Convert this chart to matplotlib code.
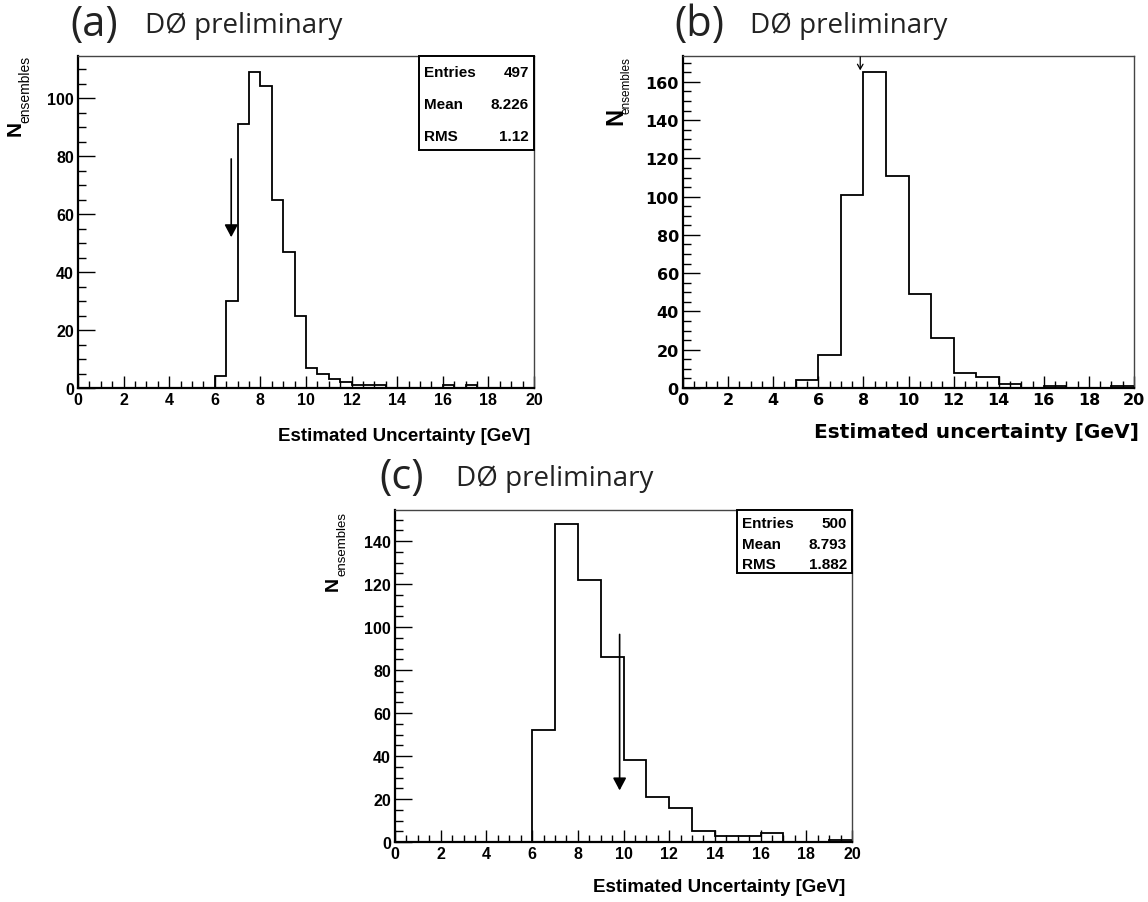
import numpy as np
import matplotlib
matplotlib.use("Agg")
import matplotlib.pyplot as plt
from matplotlib.ticker import MultipleLocator
from matplotlib.patches import Rectangle

# ---- data -------------------------------------------------------------
edges_a = np.arange(0, 20.5, 0.5)
counts_a = [0, 0, 0, 0, 0, 0, 0, 0, 0, 0, 0, 0,
            4, 30, 91, 109, 104, 65, 47, 25,
            7, 5, 3, 2, 1, 1, 1, 0, 0, 0, 0, 0,
            1, 0, 1, 0, 0, 0, 0, 0]
stats_a = [("Entries", "497"), ("Mean", "8.226"), ("RMS", "1.12")]
arrow_a = (6.72, 79, 52)

edges_b = np.arange(0, 21, 1)
counts_b = [0, 0, 0, 0, 0, 4, 17, 101, 165, 111, 49, 26, 8, 6, 2, 0, 1, 0, 0, 1]
arrow_b = (7.86, 173, 166)

edges_c = np.arange(0, 21, 1)
counts_c = [0, 0, 0, 0, 0, 0, 52, 148, 122, 86, 38, 21, 16, 5, 3, 3, 4, 0, 0, 1]
stats_c = [("Entries", "500"), ("Mean", "8.793"), ("RMS", "1.882")]
arrow_c = (9.83, 96.6, 24)

W, H = 1148, 903
fig = plt.figure(figsize=(W / 100, H / 100), dpi=100)


def rect(l, r, t, b):
    return [l / W, 1 - b / H, (r - l) / W, (b - t) / H]


def fx(x):
    return x / W


def fy(y):
    return 1 - y / H


def style_axes(ax, ymax, family, tsize):
    ax.set_xlim(0, 20)
    ax.set_ylim(0, ymax)
    ax.xaxis.set_major_locator(MultipleLocator(2))
    ax.xaxis.set_minor_locator(MultipleLocator(0.5))
    ax.yaxis.set_major_locator(MultipleLocator(20))
    ax.yaxis.set_minor_locator(MultipleLocator(5))
    ax.tick_params(which="both", direction="in", top=False, right=False,
                   width=1.0, color="black")
    ax.tick_params(axis="x", which="major", length=9, pad=3)
    ax.tick_params(axis="x", which="minor", length=5)
    ax.tick_params(axis="y", which="major", length=12, pad=3)
    ax.tick_params(axis="y", which="minor", length=6)
    for lab in ax.get_xticklabels() + ax.get_yticklabels():
        lab.set_fontfamily(family)
        lab.set_fontweight("bold")
        lab.set_fontsize(tsize)
    for side in ("left", "bottom"):
        ax.spines[side].set_linewidth(1.6)
        ax.spines[side].set_color("black")
    for side in ("top", "right"):
        ax.spines[side].set_linewidth(1.0)
        ax.spines[side].set_color("#444444")


def draw_arrow(ax, x, y0, y1, filled=True):
    if filled:
        style = "-|>,head_length=0.75,head_width=0.4"
        lw = 1.2
    else:
        style = "->,head_length=0.35,head_width=0.2"
        lw = 0.9
    ax.annotate("", xy=(x, y1), xytext=(x, y0),
                arrowprops=dict(arrowstyle=style, color="black", lw=lw,
                                shrinkA=0, shrinkB=0))


def stats_box(l, r, t, b, rows, size, ys):
    fig.patches.append(Rectangle((fx(l), fy(b)), fx(r - l), (b - t) / H,
                                 transform=fig.transFigure, fill=True,
                                 facecolor="white", edgecolor="black", lw=1.4,
                                 zorder=5))
    for (k, v), yy in zip(rows, ys):
        fig.text(fx(l + 5), fy(yy), k, fontsize=size, fontweight="bold",
                 family="Liberation Sans", ha="left", va="center", zorder=6)
        fig.text(fx(r - 5), fy(yy), v, fontsize=size, fontweight="bold",
                 family="Liberation Sans", ha="right", va="center", zorder=6)


def header(letter, xl, xd, ycen):
    fig.text(fx(xl), fy(ycen), "(" + letter + ")", fontsize=30,
             family="Open Sans", color="#222222", ha="left", va="center")
    fig.text(fx(xd), fy(ycen + 1), "DØ preliminary", fontsize=20,
             family="Open Sans", color="#222222", ha="left", va="center")


def n_label(xn, xs, ytop, ybot, nsize, ssize, family):
    # "N" with a small "ensembles" subscript, read bottom to top
    fig.text(fx(xn), fy(ybot), "N", rotation=90, fontsize=nsize,
             fontweight="bold", family=family, ha="center", va="bottom")
    fig.text(fx(xs), fy(ytop), "ensembles", rotation=90, fontsize=ssize,
             family=family, ha="center", va="top")


# ---- panel (a) ---------------------------------------------------------
ax_a = fig.add_axes(rect(78, 534, 57, 389))
ax_a.stairs(counts_a, edges_a, color="black", lw=1.3)
style_axes(ax_a, 114.5, "Liberation Sans", 11.5)
draw_arrow(ax_a, *arrow_a)
n_label(15, 25, 56, 136, 15, 10, "Liberation Sans")
fig.text(fx(530), fy(437), "Estimated Uncertainty [GeV]", fontsize=13.5,
         fontweight="bold", family="Liberation Sans", ha="right", va="center")
stats_box(419, 534, 57, 151, stats_a, 11, [73, 105, 137])
header("a", 70, 145, 25)

# ---- panel (b) ---------------------------------------------------------
ax_b = fig.add_axes(rect(683, 1134, 57, 389))
ax_b.stairs(counts_b, edges_b, color="black", lw=1.3)
style_axes(ax_b, 173.5, "DejaVu Sans", 11.5)
draw_arrow(ax_b, *arrow_b, filled=False)
n_label(616, 627, 57, 125, 17, 8.5, "Liberation Sans")
fig.text(fx(1139), fy(433), "Estimated uncertainty [GeV]", fontsize=14.5,
         fontweight="bold", family="DejaVu Sans", ha="right", va="center")
header("b", 674, 750, 25)

# ---- panel (c) ---------------------------------------------------------
ax_c = fig.add_axes(rect(395, 852, 511, 843))
ax_c.stairs(counts_c, edges_c, color="black", lw=1.3)
style_axes(ax_c, 154.5, "Liberation Sans", 11.5)
draw_arrow(ax_c, *arrow_c)
n_label(333, 342, 512, 591, 14, 9.5, "Liberation Sans")
fig.text(fx(845), fy(888), "Estimated Uncertainty [GeV]", fontsize=13.5,
         fontweight="bold", family="Liberation Sans", ha="right", va="center")
stats_box(737, 852, 511, 574, stats_c, 11, [524, 545, 565])
header("c", 379, 456, 478)

fig.savefig("out.png", dpi=100)
